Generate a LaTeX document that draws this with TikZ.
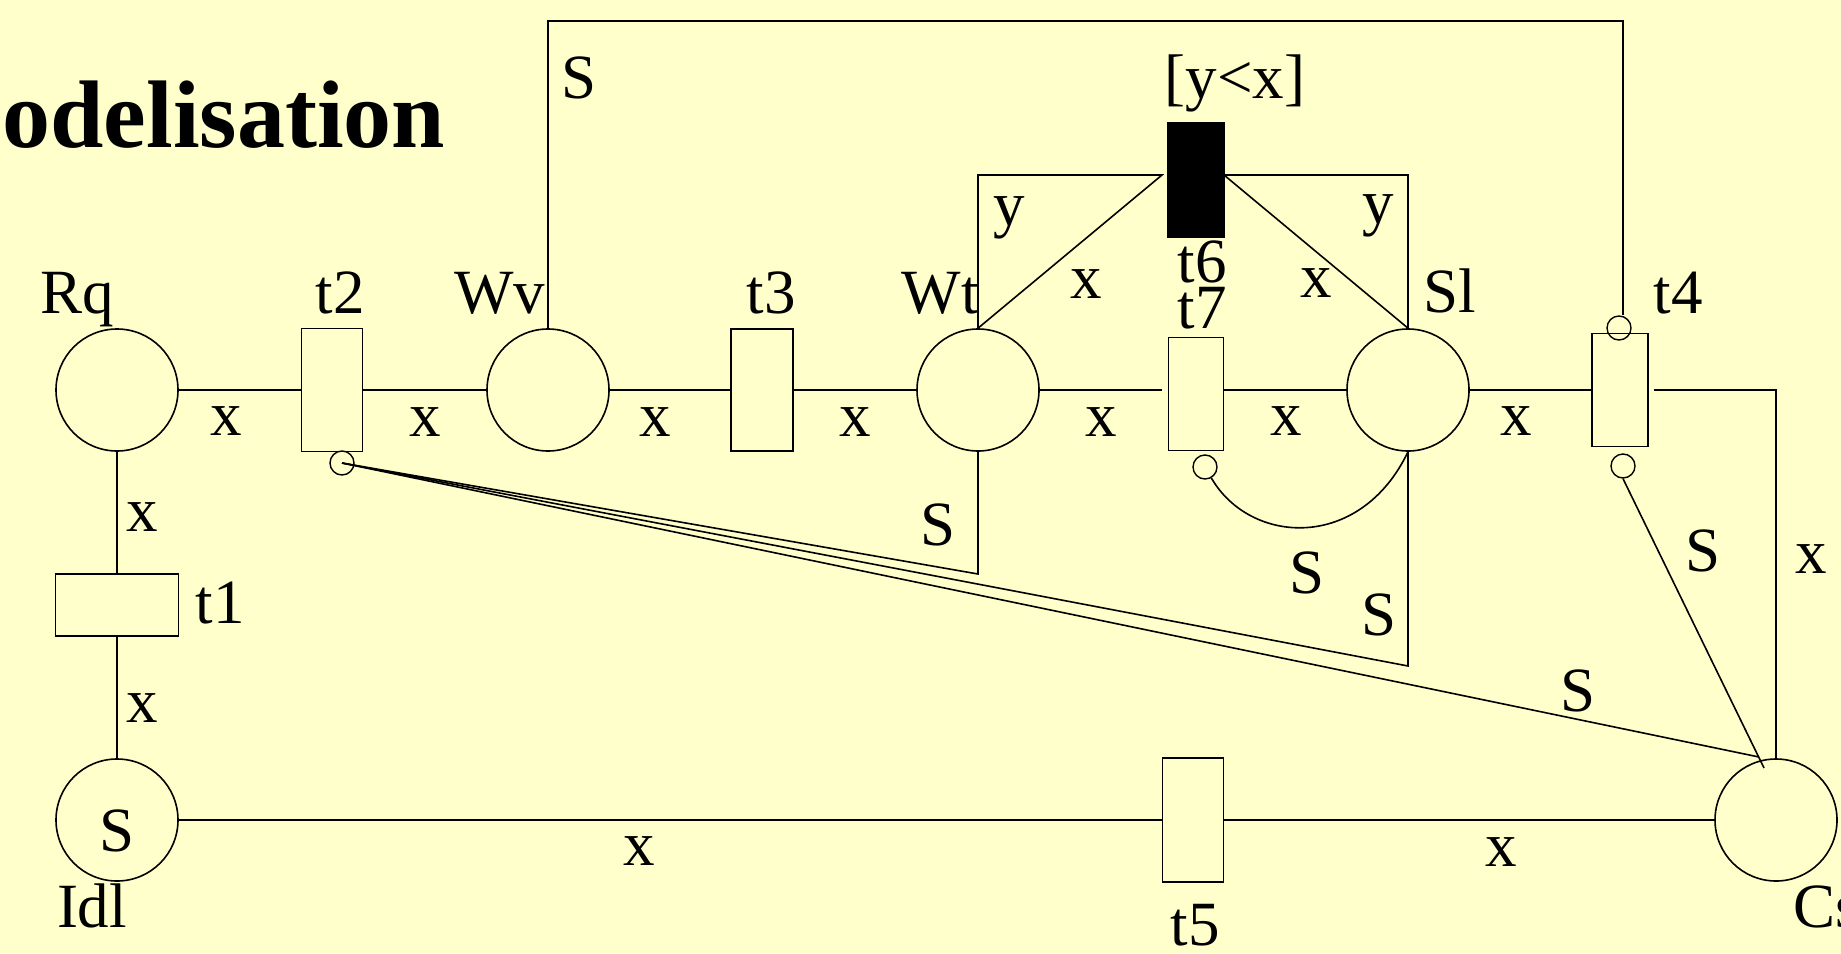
\documentclass[tikz,border=0pt]{standalone}
\usepackage{fontspec}
\setmainfont{Liberation Serif}
\definecolor{bg}{HTML}{FFFFCC}
\tikzset{
  place/.style={circle, draw, line width=1.6pt, minimum size=122pt, inner sep=0pt, font=\fontsize{63}{70}\selectfont},
  trans/.style={rectangle, draw, line width=1.6pt, inner sep=0pt},
  inhib/.style={circle, draw, line width=1.4pt, minimum size=24pt, inner sep=0pt},
  lbl/.style={font=\fontsize{63}{70}\selectfont, inner sep=0pt, anchor=base},
}
\begin{document}
\begin{tikzpicture}[x=1pt,y=-1pt, line width=1.6pt]
\fill[bg] (0,0) rectangle (1841,953);
\useasboundingbox (0,0) rectangle (1841,953);

% title
\node[font=\fontsize{96}{110}\selectfont\bfseries, inner sep=0pt, anchor=base east] (title) at (446,147) {Modelisation};

% places
\node[place] (Rq) at (117,390) {};
\node[place] (Wv) at (548,390) {};
\node[place] (Wt) at (978,390) {};
\node[place] (Sl) at (1408,390) {};
\node[place, text height=62pt, text depth=0pt] (Idl) at (117,820) {S};
\node[place] (Cs) at (1776,820) {};

% transitions
\node[trans, minimum width=123pt, minimum height=62pt] (t1) at (117,605) {};
\node[trans, minimum width=61pt, minimum height=123pt] (t2) at (332,390) {};
\node[trans, minimum width=62pt, minimum height=122pt] (t3) at (762,390) {};
\node[trans, minimum width=56pt, minimum height=113pt] (t4) at (1620,390) {};
\node[trans, minimum width=61pt, minimum height=124pt] (t5) at (1193,820) {};
\node[trans, fill=black, minimum width=56pt, minimum height=115pt] (t6) at (1196,180) {};
\node[trans, minimum width=55pt, minimum height=113pt] (t7) at (1196,394) {};

% inhibitor circles
\node[inhib] (i2) at (342,463) {};
\node[inhib] (i7) at (1205,467) {};
\node[inhib] (i4t) at (1619,328) {};
\node[inhib] (i4b) at (1623,466) {};

% helper coordinates
\coordinate (topR) at (1623,21);
\coordinate (t6L) at (1162,175);
\coordinate (t6R) at (1224,175);
\coordinate (cW) at (978,574);
\coordinate (cS) at (1408,666);
\coordinate (csA) at (1759,757);
\coordinate (csB) at (1764,768);

% connectors
\draw (Rq) -- (t2);
\draw (t2) -- (Wv);
\draw (Wv) -- (t3);
\draw (t3) -- (Wt);
\draw[shorten >=6pt] (Wt.east) -- (t7.west |- Wt.east);
\draw (t7.east |- Sl.west) -- (Sl.west);
\draw (Sl) -- (t4);
\draw[shorten <=5pt] (t4.east) -| (Cs.north);
\draw (Rq) -- (t1);
\draw (t1) -- (Idl);
\draw (Idl) -- (t5);
\draw (t5) -- (Cs);
\draw (Wv.north) |- (topR) -- (topR |- i4t.north);
\draw (Wt.north) |- (t6L) -- (Wt.north);
\draw (Sl.north) |- (t6R) -- (Sl.north);
\draw (Wt.south) -- (cW) -- (i2.center);
\draw (Sl.south) -- (cS) -- (i2.center);
\draw (i2.center) -- (csA);
\draw (i4b.south) -- (csB);
\draw (i7.-60) .. controls (1250,545) and (1360,552) .. (Sl.south);

% node labels
\node[lbl] (lRq) at (77,313) {Rq};
\node[lbl] (lt2) at (340,313) {t2};
\node[lbl] (lWv) at (500,313) {Wv};
\node[lbl] (lt3) at (771,313) {t3};
\node[lbl] (lWt) at (940,313) {Wt};
\node[lbl] (lt6) at (1202,282) {t6};
\node[lbl] (lt7) at (1202,328) {t7};
\node[lbl] (lSl) at (1450,312) {Sl};
\node[lbl] (lt4) at (1678,313) {t4};
\node[lbl] (lguard) at (1235,98) {[y<x]};
\node[lbl] (lt1) at (220,623) {t1};
\node[lbl] (lIdl) at (92,927) {Idl};
\node[lbl] (lt5) at (1195,945) {t5};
\node[lbl, anchor=base west] (lCs) at (1793,927) {Cs};

% arc labels
\node[lbl] (a1) at (226,435) {x};
\node[lbl] (a2) at (425,436) {x};
\node[lbl] (a3) at (655,436) {x};
\node[lbl] (a4) at (855,436) {x};
\node[lbl] (a5) at (1101,436) {x};
\node[lbl] (a6) at (1286,435) {x};
\node[lbl] (a7) at (1516,435) {x};
\node[lbl] (a8) at (142,531) {x};
\node[lbl] (a9) at (142,722) {x};
\node[lbl] (a10) at (639,865) {x};
\node[lbl] (a11) at (1501,866) {x};
\node[lbl] (a12) at (1086,298) {x};
\node[lbl] (a13) at (1316,297) {x};
\node[lbl] (a14) at (1009,225) {y};
\node[lbl] (a15) at (1378,223) {y};
\node[lbl] (a16) at (579,98) {S};
\node[lbl] (a17) at (938,545) {S};
\node[lbl] (a18) at (1307,593) {S};
\node[lbl] (a19) at (1379,635) {S};
\node[lbl] (a20) at (1578,711) {S};
\node[lbl] (a21) at (1703,571) {S};
\node[lbl] (a22) at (1811,573) {x};
\end{tikzpicture}
\end{document}
